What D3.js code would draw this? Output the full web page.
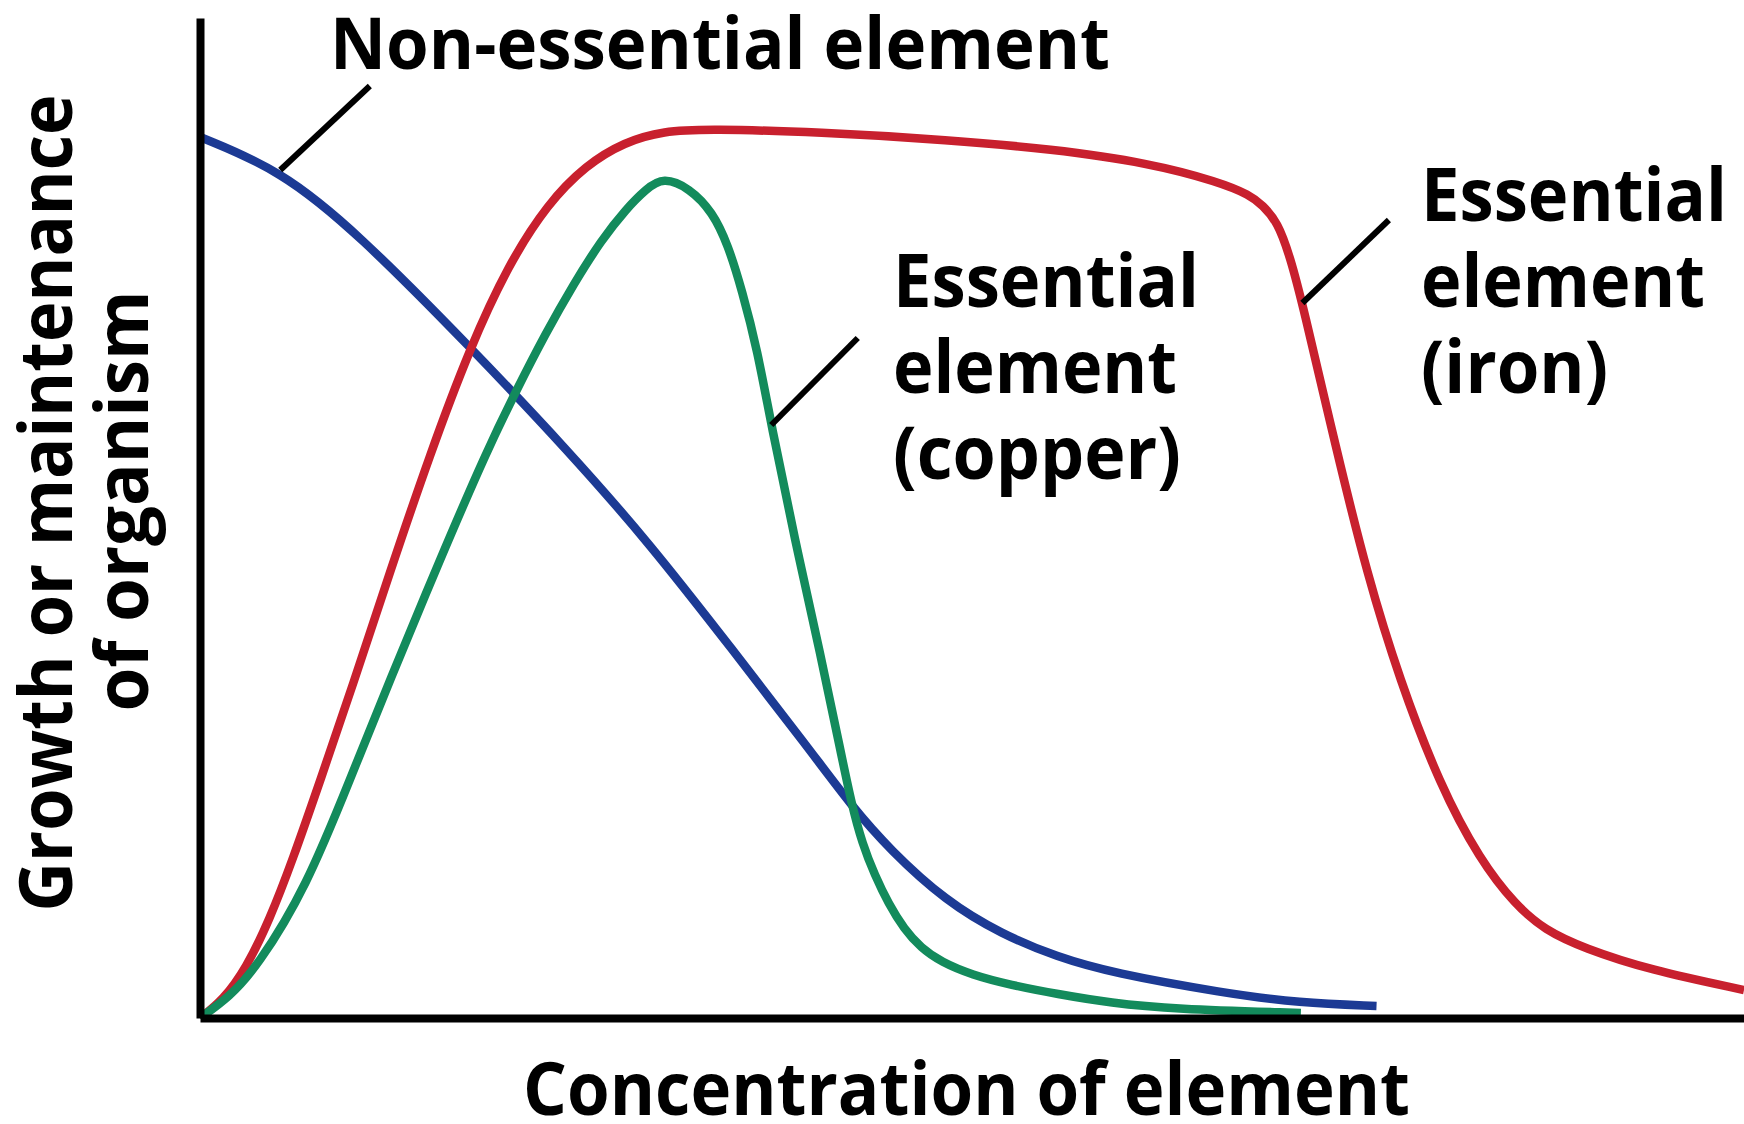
<!DOCTYPE html>
<html>
<head>
<meta charset="utf-8">
<script src="https://cdn.jsdelivr.net/npm/d3@7"></script>
<style>
  html, body { margin: 0; padding: 0; background: #fff; }
  svg text { font-family: "Open Sans", "Noto Sans", sans-serif; font-weight: 700; fill: #000; }
</style>
</head>
<body>
<div class="vis-curves"></div>
<script>
// concentration (0-100) vs growth (0-100)
const nonEssential = [
  [0, 88.1], [5.2, 84.8], [10.2, 78.5], [17.5, 67.1], [23.8, 56.8], [29.1, 47.5],
  [34.3, 37.2], [39.5, 26.8], [42.2, 21.2], [44.7, 16.8], [48.3, 11.7], [51.9, 8.4],
  [55.5, 6.1], [59.1, 4.5], [66.3, 2.5], [71.2, 1.5], [76.2, 1.2]
];
const iron = [
  [0, 0], [1.5, 1.8], [3.0, 5.0], [4.5, 9.8], [6.0, 15.8], [7.8, 23.8], [9.9, 33.3],
  [12.3, 44.6], [14.9, 56.4], [17.5, 67.1], [20.0, 75.4], [22.5, 81.4], [25.0, 85.3],
  [27.5, 87.6], [30.0, 88.7], [33.0, 88.9], [40.0, 88.6], [48.6, 87.8], [55.1, 86.9],
  [61.5, 85.5], [66.0, 83.6], [68.0, 82.3], [68.8, 81.3], [69.8, 79.6], [70.6, 76.1],
  [71.4, 71.5], [73.6, 56.8], [75.6, 44.3], [77.7, 33.8], [80.3, 23.3], [82.9, 15.8],
  [85.2, 11.3], [87.1, 8.8], [89.6, 7.0], [93.9, 4.8], [100, 2.8]
];
const copper = [
  [0, 0], [1.9, 2.1], [3.7, 5.1], [6.9, 13.1], [9.7, 23.8], [12.3, 33.8], [15.5, 45.7],
  [18.6, 56.8], [20.5, 62.8], [22.4, 68.5], [24.2, 73.4], [26.0, 77.8], [27.6, 80.9],
  [28.9, 82.9], [30.0, 84.1], [31.7, 83.0], [33.2, 80.6], [34.2, 77.3], [35.1, 72.8],
  [36.1, 66.8], [37.0, 59.3], [38.5, 48.0], [40.2, 36.3], [41.5, 26.6], [42.2, 21.4],
  [42.9, 17.4], [43.7, 14.3], [44.6, 11.4], [45.6, 8.9], [46.7, 7.0], [48.0, 5.6],
  [50.0, 4.3], [52.5, 3.3], [55.5, 2.4], [59.0, 1.5], [63.0, 0.9], [71.3, 0.5]
];

const seriesColors = ["#1c3a94", "#c8202e", "#138b5c"];

// label text lines, and where each leader touches its curve
const labelLines = [
  ["Non-essential element"],
  ["Essential", "element", "(iron)"],
  ["Essential", "element", "(copper)"]
];
const leaderAt = [[5.2, 84.8], [71.4, 71.5], [37.0, 59.3]];
const leaderTo = [[11.0, 93.2], [77.0, 79.8], [42.6, 68.0]];

const xTitle = "Concentration of element";
const yTitle = ["Growth or maintenance", "of organism"];

const W = 1744, H = 1124;
const svg = d3.select(".vis-curves").append("svg")
  .attr("width", W).attr("height", H);

const x = d3.scaleLinear().domain([0, 100]).range([200, 1744]);
const y = d3.scaleLinear().domain([0, 100]).range([1018, 18]);

const line = d3.line()
  .x(d => x(d[0]))
  .y(d => y(d[1]))
  .curve(d3.curveBasis);

// curves
[nonEssential, iron, copper].forEach((s, i) => {
  svg.append("path")
    .attr("d", line(s))
    .attr("fill", "none")
    .attr("stroke", seriesColors[i])
    .attr("stroke-width", 8.5)
    .attr("stroke-linejoin", "round");
});

// axes (no ticks)
svg.append("g")
  .attr("transform", "translate(0," + y(0) + ")")
  .call(d3.axisBottom(x).tickSize(0).tickValues([]))
  .select(".domain").attr("stroke", "#000").attr("stroke-width", 8);
svg.append("g")
  .attr("transform", "translate(" + x(0) + ",0)")
  .call(d3.axisLeft(y).tickSize(0).tickValues([]))
  .select(".domain").attr("stroke", "#000").attr("stroke-width", 8);

// leader lines
leaderAt.forEach((p, i) => {
  svg.append("line")
    .attr("x1", x(p[0])).attr("y1", y(p[1]))
    .attr("x2", x(leaderTo[i][0])).attr("y2", y(leaderTo[i][1]))
    .attr("stroke", "#000").attr("stroke-width", 6);
});

// labels
const labelPos = [{x: 330, y: 69, size: 72}, {x: 1421, y: 221, size: 74}, {x: 893, y: 307, size: 74}];
const labelWidths = [[780], [306, 284, 187], [306, 284, 288]];
labelLines.forEach((lines, i) => {
  lines.forEach((t, j) => {
    svg.append("text")
      .attr("x", labelPos[i].x)
      .attr("y", labelPos[i].y + j * 86)
      .style("font-size", labelPos[i].size + "px")
      .attr("textLength", labelWidths[i][j])
      .attr("lengthAdjust", "spacingAndGlyphs")
      .text(t);
  });
});

svg.append("text")
  .attr("x", 523).attr("y", 1115)
  .style("font-size", "74px")
  .attr("textLength", 887)
  .attr("lengthAdjust", "spacingAndGlyphs")
  .text(xTitle);

const yW = [817, 421];
yTitle.forEach((t, j) => {
  const bx = [72, 148][j], cy = [503, 501][j];
  svg.append("text")
    .attr("transform", "translate(" + bx + "," + cy + ") rotate(-90)")
    .attr("text-anchor", "middle")
    .style("font-size", "74px")
    .attr("textLength", yW[j])
    .attr("lengthAdjust", "spacingAndGlyphs")
    .text(t);
});
</script>
</body>
</html>
